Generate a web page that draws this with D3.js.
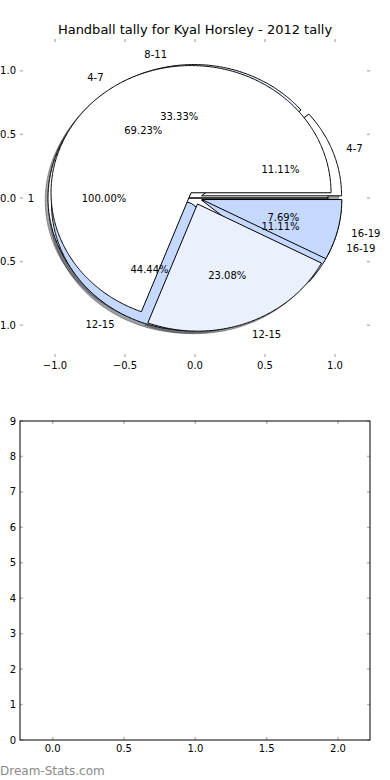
<!DOCTYPE html>
<html>
<head>
<meta charset="utf-8">
<script src="https://cdn.jsdelivr.net/npm/d3@7"></script>
<style>
  body { margin: 0; background: #fff; }
  svg { display: block; font-family: "DejaVu Sans", sans-serif; }
</style>
</head>
<body>
<svg id="plotSvg" width="390" height="780"></svg>
<script>
// chart data
var title = "Handball tally for Kyal Horsley - 2012 tally";
var labelsA = ["1"];
var valuesA = [1];
var labelsB = ["4-7", "8-11", "12-15", "16-19"];
var valuesB = [1, 3, 4, 1];
var labelsC = ["4-7", "12-15", "16-19"];
var valuesC = [9, 3, 1];
var wedgeColors = ["#ffffff", "#eaf1fd", "#c5d8fd", "#c5d8fd"];
var pieTicks = [-1, -0.5, 0, 0.5, 1];
var barXTicks = [0, 0.5, 1, 1.5, 2];
var barYTicks = [0, 1, 2, 3, 4, 5, 6, 7, 8, 9];
var watermark = "Dream-Stats.com";

var svg = d3.select("#plotSvg");
var explode = 0.05;
var tickColor = "#bbbbbb";
var fmtTick = d3.format(".1f");
var fmtPct = d3.format(".2f");

// top axes (pie), frame off
var pieBox = {left: 20, right: 370, top: 39, bottom: 357};
var x = d3.scaleLinear().domain([-1.25, 1.25]).range([pieBox.left, pieBox.right]);
var y = d3.scaleLinear().domain([-1.25, 1.25]).range([pieBox.bottom, pieBox.top]);

var pies = [
    {labels: labelsA, values: valuesA},
    {labels: labelsB, values: valuesB},
    {labels: labelsC, values: valuesC}
];

var pieLayout = d3.pie().sort(null).value(function (d) { return d; })
    .startAngle(0).endAngle(2 * Math.PI);

var line = d3.line();

function wedgePoints(cx, cy, a0, a1, dx, dy) {
    var pts = [[x(cx + dx), y(cy + dy)]];
    var n = Math.max(2, Math.ceil((a1 - a0) / 0.01));
    for (var i = 0; i <= n; i++) {
        var a = a0 + (a1 - a0) * i / n;
        pts.push([x(cx + Math.cos(a) + dx), y(cy + Math.sin(a) + dy)]);
    }
    pts.push(pts[0]);
    return pts;
}

var wedges = [];
var texts = [];
pies.forEach(function (p) {
    var total = d3.sum(p.values);
    pieLayout(p.values).forEach(function (arc, i) {
        var mid = (arc.startAngle + arc.endAngle) / 2;
        var cx = explode * Math.cos(mid), cy = explode * Math.sin(mid);
        wedges.push({cx: cx, cy: cy, a0: arc.startAngle, a1: arc.endAngle, color: wedgeColors[i]});
        var lx = cx + 1.1 * Math.cos(mid), ly = cy + 1.1 * Math.sin(mid);
        texts.push({x: lx, y: ly, text: p.labels[i], anchor: lx < 0 ? "end" : "start"});
        var px = cx + 0.6 * Math.cos(mid), py = cy + 0.6 * Math.sin(mid);
        texts.push({x: px, y: py, text: fmtPct(arc.value / total * 100) + "%", anchor: "middle"});
    });
});

var g = svg.append("g");

// shadows first (lower zorder)
function shadowColor(d) {
    var c = d3.rgb(d.color);
    return d3.rgb(c.r * 0.3, c.g * 0.3, c.b * 0.3);
}
g.selectAll("path.shadow")
    .data(wedges)
    .enter().append("path")
    .attr("class", "shadow")
    .attr("d", function (d) { return line(wedgePoints(d.cx, d.cy, d.a0, d.a1, -0.02, -0.02)); })
    .style("fill", shadowColor)
    .style("fill-opacity", 0.5)
    .style("stroke", shadowColor)
    .style("stroke-opacity", 0.5)
    .style("stroke-width", 1);

g.selectAll("path.wedge")
    .data(wedges)
    .enter().append("path")
    .attr("class", "wedge")
    .attr("d", function (d) { return line(wedgePoints(d.cx, d.cy, d.a0, d.a1, 0, 0)); })
    .style("fill", function (d) { return d.color; })
    .style("stroke", "#000")
    .style("stroke-width", 1)
    .style("stroke-linejoin", "miter");

g.selectAll("text.lbl")
    .data(texts)
    .enter().append("text")
    .attr("class", "lbl")
    .attr("x", function (d) { return x(d.x); })
    .attr("y", function (d) { return y(d.y); })
    .attr("dy", "0.36em")
    .attr("text-anchor", function (d) { return d.anchor; })
    .attr("font-size", 10)
    .text(function (d) { return d.text; });

// pie axes ticks (no spines)
var tk = svg.append("g").attr("stroke", tickColor).attr("stroke-width", 1.5);
pieTicks.forEach(function (t) {
    tk.append("line").attr("x1", x(t)).attr("x2", x(t)).attr("y1", pieBox.top).attr("y2", pieBox.top + 3);
    tk.append("line").attr("x1", x(t)).attr("x2", x(t)).attr("y1", pieBox.bottom).attr("y2", pieBox.bottom - 3);
    tk.append("line").attr("y1", y(t)).attr("y2", y(t)).attr("x1", pieBox.left).attr("x2", pieBox.left + 3);
    tk.append("line").attr("y1", y(t)).attr("y2", y(t)).attr("x1", pieBox.right).attr("x2", pieBox.right - 3);
});
svg.append("g").selectAll("text")
    .data(pieTicks).enter().append("text")
    .attr("x", function (d) { return x(d); })
    .attr("y", pieBox.bottom + 12)
    .attr("text-anchor", "middle")
    .attr("font-size", 10)
    .text(function (d) { return fmtTick(d).replace("-", "\u2212"); });
svg.append("g").selectAll("text")
    .data(pieTicks).enter().append("text")
    .attr("x", pieBox.left - 4)
    .attr("y", function (d) { return y(d); })
    .attr("dy", "0.36em")
    .attr("text-anchor", "end")
    .attr("font-size", 10)
    .text(function (d) { return fmtTick(d).replace("-", "\u2212"); });

svg.append("text")
    .attr("x", (pieBox.left + pieBox.right) / 2)
    .attr("y", 34)
    .attr("text-anchor", "middle")
    .attr("font-size", 13)
    .text(title);

// bottom axes (empty)
var barBox = {left: 20, right: 370, top: 421, bottom: 740};
var bx = d3.scaleLinear().domain([-0.229, 2.224]).range([barBox.left, barBox.right]);
var by = d3.scaleLinear().domain([0, 9]).range([barBox.bottom, barBox.top]);

var btk = svg.append("g").attr("stroke", tickColor).attr("stroke-width", 1.5);
barXTicks.forEach(function (t) {
    btk.append("line").attr("x1", bx(t)).attr("x2", bx(t)).attr("y1", barBox.top).attr("y2", barBox.top + 3);
    btk.append("line").attr("x1", bx(t)).attr("x2", bx(t)).attr("y1", barBox.bottom).attr("y2", barBox.bottom - 3);
});
barYTicks.forEach(function (t) {
    btk.append("line").attr("y1", by(t)).attr("y2", by(t)).attr("x1", barBox.left).attr("x2", barBox.left + 3);
    btk.append("line").attr("y1", by(t)).attr("y2", by(t)).attr("x1", barBox.right).attr("x2", barBox.right - 3);
});
svg.append("rect")
    .attr("x", barBox.left).attr("y", barBox.top)
    .attr("width", barBox.right - barBox.left).attr("height", barBox.bottom - barBox.top)
    .style("fill", "none").style("stroke", "#000").style("stroke-width", 1);

svg.append("g").selectAll("text")
    .data(barXTicks).enter().append("text")
    .attr("x", function (d) { return bx(d); })
    .attr("y", barBox.bottom + 12)
    .attr("text-anchor", "middle")
    .attr("font-size", 10)
    .text(function (d) { return fmtTick(d); });
svg.append("g").selectAll("text")
    .data(barYTicks).enter().append("text")
    .attr("x", barBox.left - 4)
    .attr("y", function (d) { return by(d); })
    .attr("dy", "0.36em")
    .attr("text-anchor", "end")
    .attr("font-size", 10)
    .text(function (d) { return d; });

svg.append("text")
    .attr("x", 0)
    .attr("y", 775)
    .attr("font-size", 12)
    .style("fill", "#8a8a8a")
    .text(watermark);
</script>
</body>
</html>
